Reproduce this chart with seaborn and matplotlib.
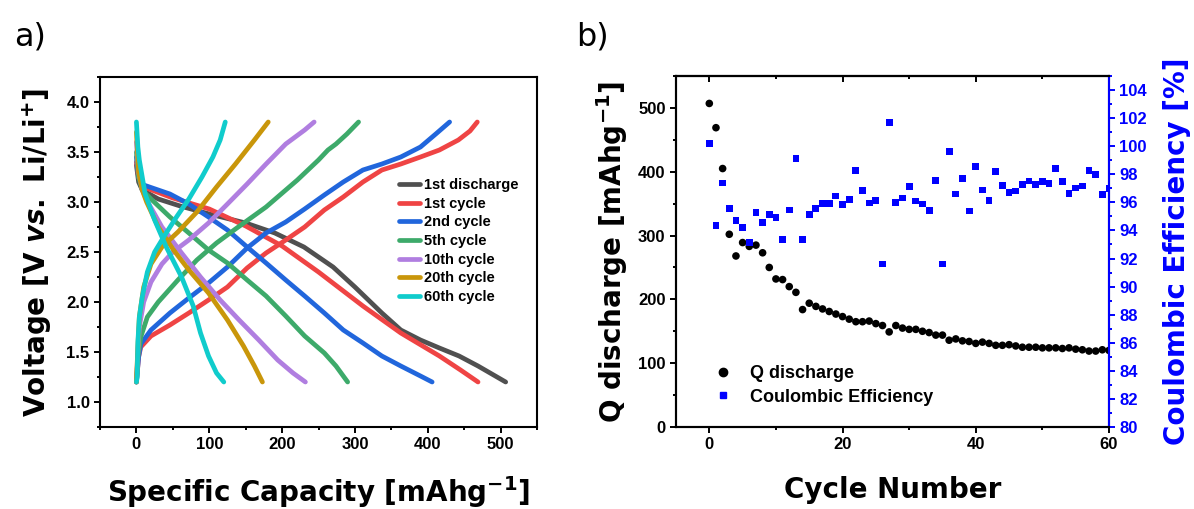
import numpy as np
import pandas as pd
import matplotlib
matplotlib.use('Agg')
import matplotlib.pyplot as plt
from matplotlib.ticker import MultipleLocator
from matplotlib.lines import Line2D
import seaborn as sns

# ---- data: panel a, charge / discharge curves (capacity, voltage) ----
d1_cap = [0, 3, 8, 30, 60, 100, 150, 190, 230, 270, 300, 337, 363, 390, 416, 443, 469, 507]
d1_v   = [3.37, 3.2, 3.12, 3.03, 2.96, 2.88, 2.79, 2.69, 2.55, 2.35, 2.15, 1.89, 1.72, 1.62, 1.54, 1.46, 1.36, 1.2]

c1_ch_cap = [0, 3, 6, 20, 46, 72, 99, 125, 152, 178, 205, 231, 258, 284, 311, 337, 363, 390, 416, 442, 458, 468]
c1_ch_v   = [1.2, 1.45, 1.55, 1.66, 1.77, 1.89, 2.02, 2.15, 2.34, 2.49, 2.62, 2.75, 2.92, 3.05, 3.2, 3.32, 3.38, 3.45, 3.52, 3.62, 3.71, 3.8]
c1_dis_cap = [0, 3, 10, 50, 100, 150, 200, 250, 311, 363, 416, 445, 469]
c1_dis_v   = [3.4, 3.25, 3.15, 3.04, 2.93, 2.76, 2.56, 2.3, 1.96, 1.69, 1.46, 1.32, 1.2]

c2_ch_cap = [0, 3, 6, 20, 46, 72, 99, 125, 152, 178, 205, 231, 258, 284, 311, 337, 363, 390, 411, 430]
c2_ch_v   = [1.2, 1.45, 1.58, 1.72, 1.89, 2.04, 2.19, 2.35, 2.54, 2.69, 2.8, 2.93, 3.07, 3.2, 3.32, 3.38, 3.45, 3.55, 3.68, 3.8]
c2_dis_cap = [0, 3, 10, 46, 72, 99, 125, 152, 178, 205, 231, 258, 284, 311, 337, 363, 390, 406]
c2_dis_v   = [3.45, 3.25, 3.17, 3.08, 2.98, 2.85, 2.72, 2.55, 2.39, 2.22, 2.06, 1.89, 1.72, 1.59, 1.46, 1.36, 1.26, 1.2]

c5_ch_cap = [0, 2, 6, 15, 30, 57, 83, 110, 136, 178, 221, 250, 263, 274, 289, 305]
c5_ch_v   = [1.2, 1.45, 1.65, 1.85, 2.0, 2.22, 2.42, 2.59, 2.73, 2.95, 3.22, 3.42, 3.52, 3.58, 3.68, 3.8]
c5_dis_cap = [0, 3, 8, 20, 46, 72, 99, 125, 152, 178, 205, 231, 258, 274, 290]
c5_dis_v   = [3.5, 3.25, 3.12, 3.03, 2.85, 2.69, 2.52, 2.39, 2.22, 2.06, 1.86, 1.66, 1.49, 1.36, 1.2]

c10_ch_cap = [0, 2, 4, 10, 20, 35, 50, 72, 99, 125, 152, 178, 205, 231, 244]
c10_ch_v   = [1.2, 1.5, 1.75, 2.0, 2.2, 2.38, 2.5, 2.62, 2.79, 2.98, 3.18, 3.38, 3.58, 3.72, 3.8]
c10_dis_cap = [0, 3, 8, 14, 35, 62, 88, 115, 141, 168, 194, 215, 232]
c10_dis_v   = [3.6, 3.3, 3.12, 3.02, 2.75, 2.49, 2.25, 2.02, 1.82, 1.62, 1.42, 1.29, 1.2]

c20_ch_cap = [0, 2, 4, 10, 20, 35, 57, 83, 110, 136, 162, 181]
c20_ch_v   = [1.2, 1.55, 1.85, 2.15, 2.38, 2.55, 2.7, 2.9, 3.15, 3.38, 3.62, 3.8]
c20_dis_cap = [0, 3, 8, 14, 30, 51, 72, 99, 125, 147, 162, 173]
c20_dis_v   = [3.7, 3.3, 3.12, 3.0, 2.75, 2.52, 2.32, 2.09, 1.82, 1.56, 1.36, 1.2]

c60_ch_cap = [0, 1, 2, 4, 8, 15, 25, 40, 55, 72, 90, 105, 115, 122]
c60_ch_v   = [1.2, 1.25, 1.6, 1.85, 2.05, 2.3, 2.5, 2.68, 2.85, 3.03, 3.25, 3.45, 3.62, 3.8]
c60_dis_cap = [0, 2, 4, 12, 25, 41, 62, 78, 88, 99, 110, 120]
c60_dis_v   = [3.8, 3.55, 3.42, 3.08, 2.82, 2.55, 2.25, 1.96, 1.69, 1.46, 1.29, 1.2]

# ---- data: panel b ----
cycle = list(range(61))
q_dis = [507, 469, 405, 302, 268, 289, 283, 285, 273, 250, 232, 231, 220, 211, 184, 194,
         189, 185, 181, 177, 173, 169, 165, 165, 166, 162, 159, 149, 159, 155, 153, 153,
         150, 148, 144, 144, 136, 138, 135, 134, 131, 133, 131, 128, 128, 129, 127, 125,
         125, 125, 124, 124, 124, 123, 124, 122, 121, 119, 119, 121, 120]
ce = [100.17, 94.35, 97.38, 95.56, 94.68, 94.21, 93.12, 95.27, 94.59, 95.11, 94.92, 93.36,
      95.46, 99.15, 93.38, 95.15, 95.58, 95.93, 95.93, 96.45, 95.82, 96.19, 98.25, 96.83,
      95.96, 96.15, 91.61, 101.68, 96.0, 96.31, 97.14, 96.1, 95.89, 95.44, 97.54, 91.61,
      99.62, 96.6, 97.68, 95.39, 98.58, 96.88, 96.12, 98.2, 97.19, 96.69, 96.81, 97.26,
      97.52, 97.26, 97.47, 97.33, 98.39, 97.47, 96.64, 97.02, 97.16, 98.25, 97.99, 96.57, 97.0]

sns.set_style('ticks')
plt.rcParams['font.family'] = ['Liberation Sans', 'DejaVu Sans']
plt.rcParams['font.weight'] = 'bold'
plt.rcParams['axes.labelweight'] = 'bold'
plt.rcParams['text.color'] = 'black'
plt.rcParams['axes.labelcolor'] = 'black'
plt.rcParams['xtick.color'] = 'black'
plt.rcParams['ytick.color'] = 'black'
plt.rcParams['mathtext.fontset'] = 'custom'
plt.rcParams['mathtext.rm'] = 'DejaVu Sans:bold'
plt.rcParams['mathtext.bf'] = 'DejaVu Sans:bold'
plt.rcParams['mathtext.it'] = 'DejaVu Sans:italic:bold'

fig = plt.figure(figsize=(11.94, 5.09), dpi=100)
ax_a = fig.add_axes([100/1194, 1-427/509, 437/1194, 350/509])
ax_b = fig.add_axes([676/1194, 1-427/509, 433/1194, 351/509])

curves = [
    ('1st discharge', '#505050', [(d1_cap, d1_v)]),
    ('1st cycle', '#ef4444', [(c1_ch_cap, c1_ch_v), (c1_dis_cap, c1_dis_v)]),
    ('2nd cycle', '#2166dc', [(c2_ch_cap, c2_ch_v), (c2_dis_cap, c2_dis_v)]),
    ('5th cycle', '#3daa6a', [(c5_ch_cap, c5_ch_v), (c5_dis_cap, c5_dis_v)]),
    ('10th cycle', '#b07ee0', [(c10_ch_cap, c10_ch_v), (c10_dis_cap, c10_dis_v)]),
    ('20th cycle', '#c9960a', [(c20_ch_cap, c20_ch_v), (c20_dis_cap, c20_dis_v)]),
    ('60th cycle', '#10cccc', [(c60_ch_cap, c60_ch_v), (c60_dis_cap, c60_dis_v)]),
]
handles = []
for name, col, segs in curves:
    for xs, ys in segs:
        sns.lineplot(x=xs, y=ys, ax=ax_a, color=col, lw=3.4, sort=False,
                     estimator=None, solid_capstyle='round', solid_joinstyle='round')
    handles.append(Line2D([], [], color=col, lw=3.4, label=name))

ax_a.set_xlim(-50, 550)
ax_a.set_ylim(0.75, 4.25)
ax_a.xaxis.set_major_locator(MultipleLocator(100))
ax_a.xaxis.set_minor_locator(MultipleLocator(50))
ax_a.yaxis.set_major_locator(MultipleLocator(0.5))
ax_a.yaxis.set_minor_locator(MultipleLocator(0.25))
ax_a.yaxis.set_major_formatter(plt.FormatStrFormatter('%.1f'))
ax_a.legend(handles=handles, loc='upper left', bbox_to_anchor=(0.67, 0.728),
            frameon=False, handlelength=1.45, handletextpad=0.3, labelspacing=0.32,
            borderaxespad=0, prop={'weight': 'bold', 'size': 10.5})
ax_a.set_xlabel('Specific Capacity [mAhg$^{\\mathbf{-1}}$]', fontsize=20,
                fontweight='bold', family='DejaVu Sans')
ax_a.set_ylabel('Voltage [V $\\mathit{vs.}$ Li/Li$^{\\mathbf{+}}$]', fontsize=20,
                fontweight='bold', family='DejaVu Sans')
ax_a.xaxis.set_label_coords(0.5, -0.135)
ax_a.yaxis.set_label_coords(-0.105, 0.5)

# panel b
sns.scatterplot(x=cycle, y=q_dis, ax=ax_b, color='black', marker='o', s=30,
                edgecolor='none', legend=False)
ax_c = ax_b.twinx()
sns.scatterplot(x=cycle, y=ce, ax=ax_c, color='#0000ff', marker='s', s=24,
                edgecolor='none', legend=False)
ax_b.set_xlim(-5, 60)
ax_b.set_ylim(0, 550)
ax_c.set_ylim(80, 105)
ax_b.xaxis.set_major_locator(MultipleLocator(20))
ax_b.xaxis.set_minor_locator(MultipleLocator(10))
ax_b.yaxis.set_major_locator(MultipleLocator(100))
ax_b.yaxis.set_minor_locator(MultipleLocator(50))
ax_c.yaxis.set_major_locator(MultipleLocator(2))
ax_c.yaxis.set_minor_locator(MultipleLocator(1))
top = ax_b.secondary_xaxis('top')
top.xaxis.set_major_locator(MultipleLocator(20))
top.xaxis.set_minor_locator(MultipleLocator(10))
top.tick_params(which='both', direction='in', labeltop=False, width=1.4)
top.tick_params(which='major', length=4)
top.tick_params(which='minor', length=2.5)

ax_b.set_xlabel('Cycle Number', fontsize=20, fontweight='bold', family='DejaVu Sans')
ax_b.set_ylabel('Q discharge [mAhg$^{\\mathbf{-1}}$]', fontsize=20, fontweight='bold',
                family='DejaVu Sans')
ax_c.set_ylabel('Coulombic Efficiency [%]', fontsize=20, fontweight='bold',
                family='DejaVu Sans', color='#0000ff')
ax_b.xaxis.set_label_coords(0.5, -0.14)
ax_b.yaxis.set_label_coords(-0.106, 0.5)
ax_c.yaxis.set_label_coords(1.125, 0.5)

leg_h = [Line2D([], [], ls='none', marker='o', color='black', ms=6, label='Q discharge'),
         Line2D([], [], ls='none', marker='s', color='#0000ff', ms=5, label='Coulombic Efficiency')]
ax_c.legend(handles=leg_h, loc='lower left', bbox_to_anchor=(0.07, 0.04), frameon=False,
            handlelength=1.0, handletextpad=1.0, labelspacing=0.38, borderaxespad=0,
            prop={'weight': 'bold', 'size': 13})

for ax in (ax_a, ax_b, ax_c):
    for sp in ax.spines.values():
        sp.set_visible(True)
        sp.set_linewidth(1.5)
        sp.set_color('black')
    ax.tick_params(which='both', direction='out', width=1.4, labelsize=12)
    ax.tick_params(which='major', length=4)
    ax.tick_params(which='minor', length=2.5)
top.spines['top'].set_linewidth(1.5)
ax_c.spines['right'].set_color('#0000ff')
ax_c.tick_params(which='both', colors='#0000ff')

fig.text(14/1194, 1-46/509, 'a)', fontsize=23, family='DejaVu Sans', fontweight='normal',
         va='baseline')
fig.text(576/1194, 1-46/509, 'b)', fontsize=23, family='DejaVu Sans', fontweight='normal',
         va='baseline')

fig.savefig('out.png', dpi=100)
